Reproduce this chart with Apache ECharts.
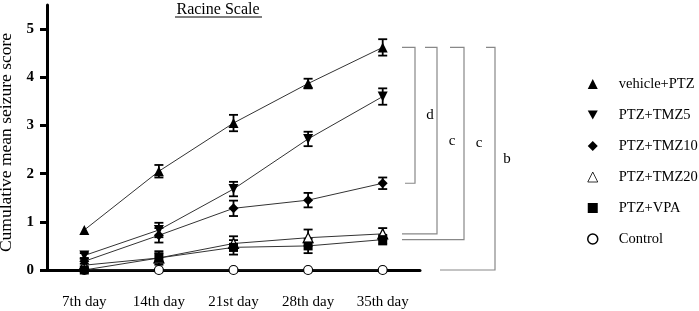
<!DOCTYPE html>
<html><head><meta charset="utf-8">
<script src="https://cdn.jsdelivr.net/npm/echarts@6/dist/echarts.min.js"></script>
<style>html,body{margin:0;padding:0;background:#fff}#c{width:699px;height:311px}</style>
</head><body><div id="c"></div>
<script>
const categories = ['7th day','14th day','21st day','28th day','35th day'];
const yTicks = [0,1,2,3,4,5];
const vehicle = [0.83, 2.05, 3.05, 3.87, 4.62];
const vehicleErr = [0, 0.13, 0.17, 0.10, 0.17];
const tmz5 = [0.30, 0.83, 1.68, 2.72, 3.60];
const tmz5Err = [0.05, 0.15, 0.15, 0.15, 0.17];
const tmz10 = [0.18, 0.72, 1.28, 1.45, 1.80];
const tmz10Err = [0.05, 0.15, 0.16, 0.15, 0.12];
const tmz20 = [0.10, 0.25, 0.55, 0.67, 0.75];
const tmz20Err = [0, 0.10, 0.15, 0.17, 0.12];
const vpa = [0, 0.25, 0.47, 0.50, 0.63];
const vpaErr = [0, 0.14, 0.15, 0.15, 0.10];
const control = [0, 0, 0, 0, 0];
const names = ['vehicle+PTZ','PTZ+TMZ5','PTZ+TMZ10','PTZ+TMZ20','PTZ+VPA','Control'];
// brackets: [label, topValue, bottomValue]
const brackets = [['d', 4.62, 1.80], ['c', 4.62, 0.75], ['c', 4.62, 0.63], ['b', 4.62, 0]];

const FONT = 'Liberation Serif';
const downTri = 'path://M0,0 L10,0 L5,9 Z';
const chart = echarts.init(document.getElementById('c'));

function lineSeries(name, data, symbol, size, fill) {
  return {
    name, type: 'line', data, symbol, symbolSize: size, z: 3,
    lineStyle: {color: '#333', width: 1},
    itemStyle: {color: fill, borderColor: '#000', borderWidth: fill === '#fff' ? 1.2 : 0},
    emphasis: {disabled: true}
  };
}
function errSeries(vals, errs) {
  const data = vals.map((v, i) => [i, v, errs[i]]);
  return {
    type: 'custom', z: 2, data, silent: true,
    renderItem(params, api) {
      const i = api.value(0), v = api.value(1), e = api.value(2);
      if (!e) return null;
      const hi = api.coord([i, v + e]), lo = api.coord([i, v - e]);
      const w = 4.5;
      const st = {stroke: '#000', lineWidth: 1.8};
      return {type: 'group', children: [
        {type: 'line', shape: {x1: hi[0], y1: hi[1], x2: lo[0], y2: lo[1]}, style: st},
        {type: 'line', shape: {x1: hi[0]-w, y1: hi[1], x2: hi[0]+w, y2: hi[1]}, style: st},
        {type: 'line', shape: {x1: lo[0]-w, y1: lo[1], x2: lo[0]+w, y2: lo[1]}, style: st}
      ]};
    }
  };
}

const option = {
  animation: false,
  grid: {left: 47, right: 279, top: 5, bottom: 41, outerBoundsMode: 'none', containLabel: false},
  xAxis: {
    type: 'category', data: categories, boundaryGap: true,
    axisLine: {lineStyle: {color: '#000', width: 3}},
    axisTick: {alignWithLabel: true, length: 12, lineStyle: {color: '#000', width: 3}},
    axisLabel: {color: '#000', fontFamily: FONT, fontSize: 15, margin: 25}
  },
  yAxis: {
    type: 'value', min: 0, max: 5.5,
    splitLine: {show: false},
    axisLine: {show: true, lineStyle: {color: '#000', width: 3}},
    axisTick: {show: true, length: 7, customValues: yTicks, lineStyle: {color: '#000', width: 3}},
    axisLabel: {customValues: yTicks, color: '#000', fontFamily: FONT, fontSize: 15, fontWeight: 'bold', margin: 13},
    name: 'Cumulative mean seizure score', nameLocation: 'middle', nameGap: 28,
    nameTextStyle: {color: '#000', fontFamily: FONT, fontSize: 17.5, padding: [0, 0, 0, -10]}
  },
  legend: {
    orient: 'vertical', left: 582, top: 71, itemWidth: 10, itemHeight: 10, itemGap: 15,
    textStyle: {fontFamily: FONT, fontSize: 14.5, color: '#000', lineHeight: 16, padding: [0, 0, 0, 16]},
    selectedMode: false,
    data: [
      {name: names[0], icon: 'triangle'},
      {name: names[1], icon: downTri},
      {name: names[2], icon: 'diamond'},
      {name: names[3], icon: 'triangle', itemStyle: {borderWidth: 0.8}},
      {name: names[4], icon: 'rect'},
      {name: names[5], icon: 'circle', itemStyle: {borderWidth: 1.5}}
    ]
  },
  series: [
    errSeries(vehicle, vehicleErr), errSeries(tmz5, tmz5Err), errSeries(tmz10, tmz10Err),
    errSeries(tmz20, tmz20Err), errSeries(vpa, vpaErr),
    lineSeries(names[5], control, 'circle', 9, '#fff'),
    lineSeries(names[3], tmz20, 'triangle', 10, '#fff'),
    lineSeries(names[4], vpa, 'rect', 9, '#000'),
    lineSeries(names[2], tmz10, 'diamond', 10, '#000'),
    lineSeries(names[1], tmz5, downTri, 10, '#000'),
    lineSeries(names[0], vehicle, 'triangle', 10, '#000')
  ]
};
chart.setOption(option);

// annotations: title + significance brackets positioned from the axes
const right = 699 - 279;
const g = [];
g.push({type: 'text', x: 218, y: 2, style: {text: 'Racine Scale', fontFamily: FONT, fontSize: 16, fill: '#000', textAlign: 'center'}});
g.push({type: 'line', shape: {x1: 175, y1: 17, x2: 262, y2: 17}, style: {stroke: '#000', lineWidth: 1}});
const geo = [
  {tx0: -18, tx1: -5, vx: -5, bx0: -15, lx: 10},
  {tx0: 5, tx1: 17, vx: 17, bx0: -18, lx: 32},
  {tx0: 30, tx1: 44, vx: 44, bx0: -18, lx: 59},
  {tx0: 66, tx1: 75, vx: 75, bx0: 20, lx: 87}
];
brackets.forEach((b, k) => {
  const yt = chart.convertToPixel({yAxisIndex: 0}, b[1]);
  const yb = chart.convertToPixel({yAxisIndex: 0}, b[2]);
  const p = geo[k];
  const st = {stroke: '#888', lineWidth: 1.2};
  g.push({type: 'polyline', shape: {points: [[right + p.tx0, yt], [right + p.vx, yt], [right + p.vx, yb], [right + p.bx0, yb]]}, style: Object.assign({fill: null}, st)});
  g.push({type: 'text', x: right + p.lx, y: (yt + yb) / 2, style: {text: b[0], fontFamily: FONT, fontSize: 15, fill: '#000', textAlign: 'center', textVerticalAlign: 'middle'}});
});
chart.setOption({graphic: g});
</script></body></html>
